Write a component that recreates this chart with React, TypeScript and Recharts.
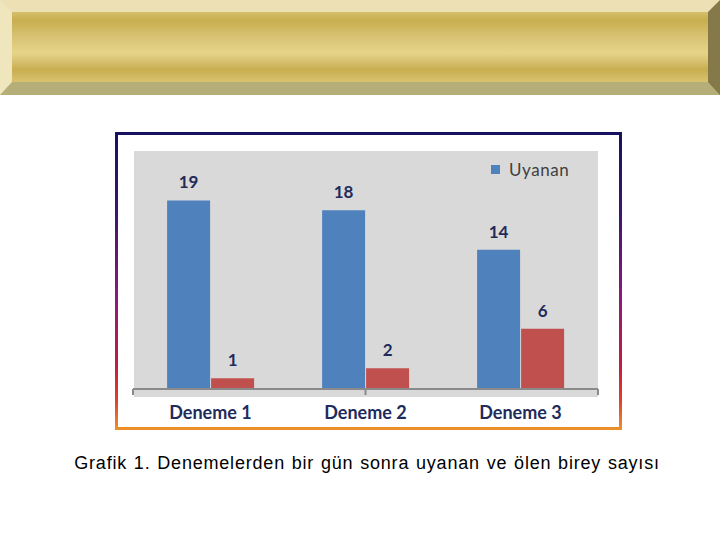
import React from 'react';
import { BarChart, Bar, XAxis, YAxis, Legend, LabelList } from 'recharts';

const categories = ['Deneme 1', 'Deneme 2', 'Deneme 3'];
const uyananValues = [19, 18, 14];
const olenValues = [1, 2, 6];
const boundaryTicks = [0, 1, 2, 3];
const yDomain: [number, number] = [0, 24];
const caption = 'Grafik 1. Denemelerden bir gün sonra uyanan ve ölen birey sayısı';

const data = categories.map((name, i) => ({ name, Uyanan: uyananValues[i], Olen: olenValues[i] }));

const LABEL_COLOR = '#1f2b5b';
const BLUE = '#4f81bd';
const RED = '#c0504d';

const renderLegend = (props: any) => {
  const items = (props.payload || []).filter((p: any) => p.type !== 'none');
  return (
    <div style={{ display: 'flex', alignItems: 'center' }}>
      {items.map((p: any) => (
        <div key={p.value} style={{ display: 'flex', alignItems: 'center' }}>
          <span style={{ width: 9, height: 9, background: p.color, display: 'inline-block', marginRight: 9 }} />
          <span style={{ fontFamily: 'Lato', fontSize: 17, color: '#404040', letterSpacing: 0.6 }}>{p.value}</span>
        </div>
      ))}
    </div>
  );
};

const EmptyTick = () => <g />;

export default function App() {
  return (
    <div style={{ position: 'absolute', left: 0, top: 0, width: 720, height: 540, background: '#ffffff', overflow: 'hidden' }}>
      {/* banner */}
      <div
        style={{
          position: 'absolute', left: 0, top: 0, width: 720, height: 95, boxSizing: 'border-box',
          borderTop: '12px solid #ece0b4', borderBottom: '13px solid #b6ae79',
          borderLeft: '12px solid #efe6bd', borderRight: '12px solid #85794a',
          background: 'linear-gradient(to bottom, #d6bf6c 0%, #c8ae4e 12%, #d6c070 32%, #e6d488 58%, #d8c272 70%, #c9ae4f 82%, #d9c270 100%)',
        }}
      />
      {/* frame */}
      <div
        style={{
          position: 'absolute', left: 115, top: 132, width: 507, height: 298,
          background: 'linear-gradient(to bottom, #16125e 0%, #40156c 28%, #8a1a7c 55%, #c21c42 78%, #e0402a 90%, #ec922a 100%)',
        }}
      >
        <div style={{ position: 'absolute', left: 3, top: 3, right: 3, bottom: 3, background: '#ffffff' }} />
      </div>
      {/* plot background */}
      <div style={{ position: 'absolute', left: 134, top: 151, width: 464, height: 246, background: '#d9d9d9' }} />
      <div style={{ position: 'absolute', left: 0, top: 0 }}>
        <BarChart
          width={720}
          height={540}
          data={data}
          margin={{ left: 133, right: 122, top: 151, bottom: 150 }}
          barCategoryGap="22%"
          barGap={1}
        >
          <XAxis
            xAxisId="grid"
            type="number"
            domain={[0, 3]}
            ticks={boundaryTicks}
            tick={EmptyTick}
            tickSize={6}
            height={1}
            allowDataOverflow
            axisLine={{ stroke: '#8a8a8a', strokeWidth: 2 }}
            tickLine={{ stroke: '#8a8a8a', strokeWidth: 2 }}
          />
          <XAxis
            xAxisId="cat"
            dataKey="name"
            height={1}
            axisLine={false}
            tickLine={false}
            tickSize={0}
            tickMargin={18}
            interval={0}
            tick={{ fill: LABEL_COLOR, fontFamily: 'Lato', fontWeight: 700, fontSize: 18 }}
          />
          <YAxis hide domain={yDomain} />
          <Legend
            layout="horizontal"
            verticalAlign="middle"
            align="center"
            content={renderLegend}
            wrapperStyle={{ position: 'absolute', left: 491, top: 159, width: 'auto', height: 'auto' }}
          />
          <Bar xAxisId="cat" dataKey="Uyanan" fill={BLUE} isAnimationActive={false}>
            <LabelList dataKey="Uyanan" position="top" offset={12} fill={LABEL_COLOR} fontFamily="Lato" fontWeight={700} fontSize={17} />
          </Bar>
          <Bar xAxisId="cat" dataKey="Olen" name="Ölen" fill={RED} legendType="none" isAnimationActive={false}>
            <LabelList dataKey="Olen" position="top" offset={12} fill={LABEL_COLOR} fontFamily="Lato" fontWeight={700} fontSize={17} />
          </Bar>
        </BarChart>
      </div>
      <div
        style={{
          position: 'absolute', left: 0, width: 734, top: 451, textAlign: 'center',
          fontFamily: '"Liberation Sans", Arial, sans-serif', fontSize: 18, letterSpacing: 0.8, wordSpacing: 1,
          color: '#000000', lineHeight: '24px',
        }}
      >
        {caption}
      </div>
    </div>
  );
}
